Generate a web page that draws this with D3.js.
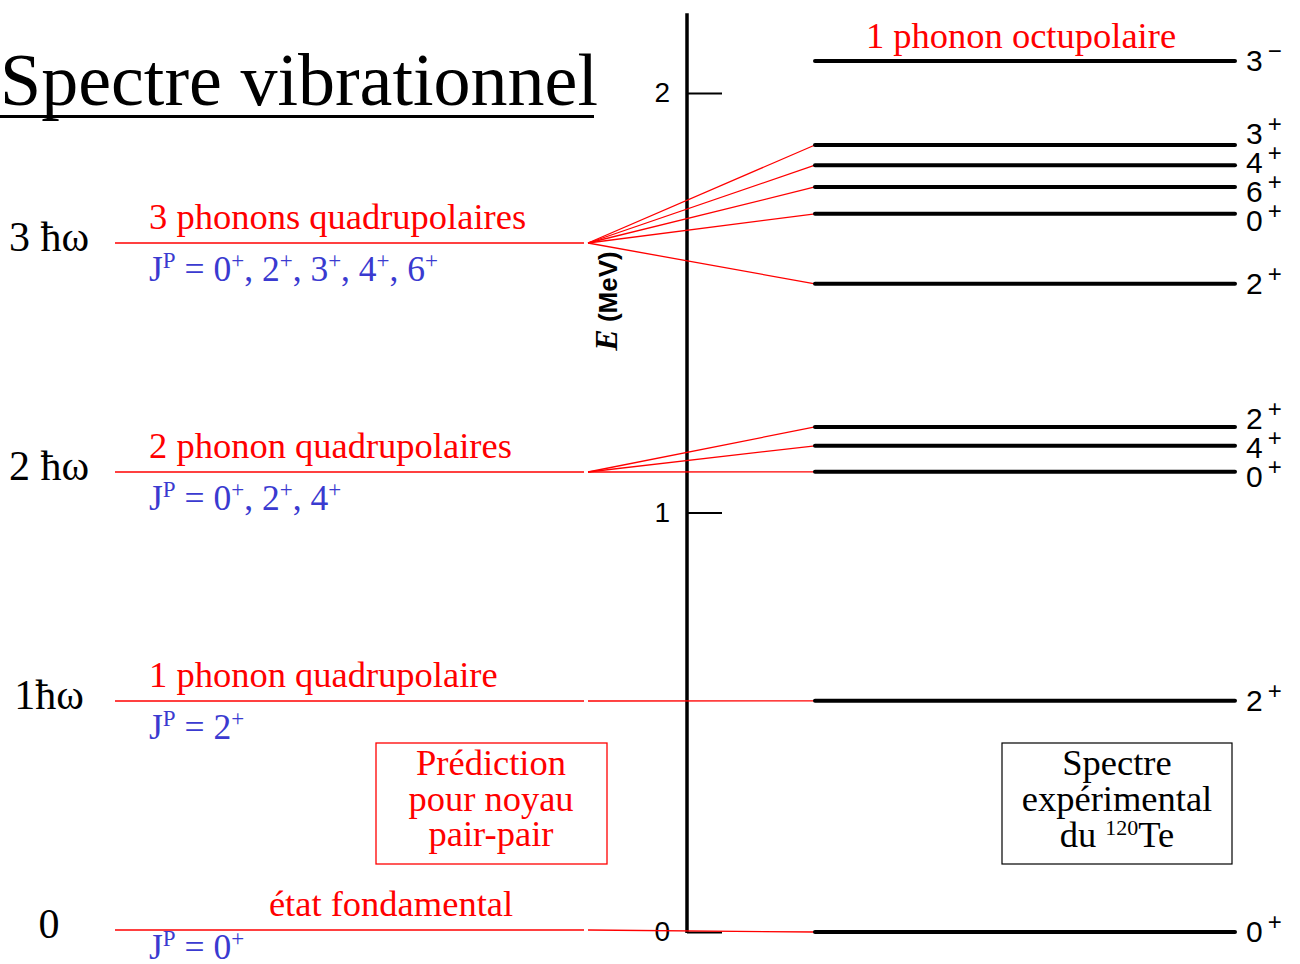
<!DOCTYPE html>
<html>
<head>
<meta charset="utf-8">
<script src="https://cdn.jsdelivr.net/npm/d3@7"></script>
<style>
  body { margin: 0; background: #fff; }
  svg { display: block; }
</style>
</head>
<body>
<div class="wrapper"></div>
<script>

// ---- data ----
// theoretical vibrational levels (in units of hbar*omega)
var nPhonons = [0, 1, 2, 3];
var nLabels = ["0", "1\u0127\u03c9", "2 \u0127\u03c9", "3 \u0127\u03c9"];
var nTitles = ["\u00e9tat fondamental", "1 phonon quadrupolaire", "2 phonon quadrupolaires", "3 phonons quadrupolaires"];
var nSpins = [["0"], ["2"], ["0", "2", "4"], ["0", "2", "3", "4", "6"]];

// experimental levels of 120Te (MeV)
var expEnergy = [0, 0.551, 1.097, 1.159, 1.204, 1.545, 1.712, 1.776, 1.828, 1.876, 2.076];
var expSpin   = ["0", "2", "0", "4", "2", "2", "0", "6", "4", "3", "3"];
var expParity = ["+", "+", "+", "+", "+", "+", "+", "+", "+", "+", "\u2212"];
// which experimental levels each phonon multiplet feeds
var expGroup  = [0, 1, 2, 2, 2, 3, 3, 3, 3, 3, -1];

var axisTicks = [0, 1, 2];

// ---- layout ----
var W = 1300, H = 964,
	RED = "#ff0000",
	BLUE = "#3a3ad0",
	SERIF = "'Liberation Serif', 'Times New Roman', serif",
	SANS = "'Liberation Sans', Arial, sans-serif",
	FS = 36.5;

var THEO_X0 = 115, THEO_X1 = 584, FAN_X0 = 588,
	EXP_X0 = 815, EXP_X1 = 1235,
	AXIS_X = 687;

var svg = d3.select(".wrapper")
	.append("svg")
		.attr("width", W)
		.attr("height", H);

var yE = d3.scaleLinear().domain([0, 2]).range([932, 93]);
var yN = d3.scaleLinear().domain([0, 3]).range([930, 243]);

// helper: text made of normal + superscript pieces
function richText(sel, parts, size, supSize) {
	var lift = Math.round(size * 0.38), raised = false;
	parts.forEach(function(p) {
		var ts = sel.append("tspan").text(p.t);
		if (p.sup) {
			ts.attr("font-size", supSize);
			if (!raised) ts.attr("dy", -lift);
			raised = true;
		} else {
			ts.attr("font-size", size);
			if (raised) ts.attr("dy", lift);
			raised = false;
		}
	});
}

// ---- title ----
svg.append("text")
	.attr("x", 0).attr("y", 105)
	.attr("font-family", SERIF)
	.attr("font-size", 74)
	.text("Spectre vibrationnel");
svg.append("rect")
	.attr("x", 0).attr("y", 115).attr("width", 594).attr("height", 3)
	.attr("fill", "#000");

// ---- energy axis ----
var axis = svg.append("g")
	.attr("transform", "translate(" + AXIS_X + ",0)")
	.call(d3.axisLeft(yE).tickValues(axisTicks).tickSize(-35).tickPadding(17).tickFormat(d3.format("d")));
axis.select(".domain").remove();
axis.selectAll(".tick line").attr("stroke", "#000").attr("stroke-width", 2);
axis.selectAll(".tick text")
	.attr("font-family", SANS)
	.attr("font-size", 28)
	.attr("fill", "#000");
axis.append("line")
	.attr("x1", 0).attr("x2", 0)
	.attr("y1", yE(2.19)).attr("y2", yE(0) + 1)
	.attr("stroke", "#000").attr("stroke-width", 3.5);

var eLab = svg.append("text")
	.attr("transform", "translate(617," + 301 + ") rotate(-90)")
	.attr("text-anchor", "middle")
	.attr("font-family", SANS)
	.attr("font-weight", "bold")
	.attr("font-size", 26);
eLab.append("tspan").attr("font-family", SERIF).attr("font-style", "italic").attr("font-size", 32).text("E");
eLab.append("tspan").text("  (MeV)");

// ---- theoretical levels ----
var theo = svg.selectAll("g.theo")
	.data(nPhonons)
	.enter()
	.append("g")
		.attr("class", "theo");

theo.append("line")
	.attr("x1", THEO_X0).attr("x2", THEO_X1)
	.attr("y1", function(d) { return yN(d); })
	.attr("y2", function(d) { return yN(d); })
	.attr("stroke", RED).attr("stroke-width", 1.3);

theo.append("text")
	.attr("x", 49)
	.attr("y", function(d) { return yN(d) + 8; })
	.attr("text-anchor", "middle")
	.attr("font-family", SERIF)
	.attr("font-size", 42)
	.text(function(d, i) { return nLabels[i]; });

theo.append("text")
	.attr("x", function(d) { return d === 0 ? 391 : 149; })
	.attr("y", function(d) { return yN(d) - 14; })
	.attr("text-anchor", function(d) { return d === 0 ? "middle" : "start"; })
	.attr("font-family", SERIF)
	.attr("font-size", FS)
	.attr("fill", RED)
	.text(function(d, i) { return nTitles[i]; });

theo.append("text")
	.attr("x", 149)
	.attr("y", function(d) { return yN(d) + (d === 0 ? 29 : 38); })
	.attr("font-family", SERIF)
	.attr("fill", BLUE)
	.each(function(d, i) {
		var parts = [{t: "J"}, {t: "P", sup: true}, {t: " = "}];
		nSpins[i].forEach(function(s, k) {
			if (k > 0) parts.push({t: ", "});
			parts.push({t: s});
			parts.push({t: "+", sup: true});
		});
		richText(d3.select(this), parts, 35.5, 23);
	});

// ---- links theory -> experiment ----
var links = expEnergy.map(function(e, i) { return {e: e, g: expGroup[i]}; })
	.filter(function(d) { return d.g >= 0; });

svg.selectAll("line.link")
	.data(links)
	.enter()
	.append("line")
		.attr("class", "link")
		.attr("x1", FAN_X0).attr("x2", EXP_X0)
		.attr("y1", function(d) { return yN(d.g); })
		.attr("y2", function(d) { return yE(d.e); })
		.attr("stroke", RED).attr("stroke-width", 1.3);

// ---- experimental levels ----
svg.selectAll("line.exp")
	.data(expEnergy)
	.enter()
	.append("line")
		.attr("class", "exp")
		.attr("x1", EXP_X0).attr("x2", EXP_X1)
		.attr("y1", function(d) { return yE(d); })
		.attr("y2", function(d) { return yE(d); })
		.attr("stroke", "#000").attr("stroke-width", 4)
		.attr("stroke-linecap", "round");

// spread crowded spin labels
var labY = expEnergy.map(function(e) { return yE(e); });
for (var it = 0; it < 200; it++) {
	for (var a = 0; a < labY.length - 1; a++) {
		var gap = labY[a] - labY[a + 1];
		if (gap < 29) {
			var push = (29 - gap) / 2;
			labY[a] += push;
			labY[a + 1] -= push;
		}
	}
}

svg.selectAll("text.spin")
	.data(expEnergy)
	.enter()
	.append("text")
		.attr("class", "spin")
		.attr("x", 1246)
		.attr("y", function(d, i) { return labY[i] + 10; })
		.attr("font-family", SANS)
		.each(function(d, i) {
			var t = d3.select(this);
			t.append("tspan").attr("font-size", 30).text(expSpin[i]);
			t.append("tspan").attr("font-size", 24).attr("dx", 5).attr("dy", -12).text(expParity[i]);
		});

svg.append("text")
	.attr("x", 1021).attr("y", 48)
	.attr("text-anchor", "middle")
	.attr("font-family", SERIF)
	.attr("font-size", FS)
	.attr("fill", RED)
	.text("1 phonon octupolaire");

// ---- boxes ----
var predBox = svg.append("g");
predBox.append("rect")
	.attr("x", 376).attr("y", 743).attr("width", 231).attr("height", 121)
	.attr("fill", "none").attr("stroke", RED).attr("stroke-width", 1.3);
["Pr\u00e9diction", "pour noyau", "pair-pair"].forEach(function(s, i) {
	predBox.append("text")
		.attr("x", 491).attr("y", 775 + i * 35.5)
		.attr("text-anchor", "middle")
		.attr("font-family", SERIF).attr("font-size", FS)
		.attr("fill", RED)
		.text(s);
});

var expBox = svg.append("g");
expBox.append("rect")
	.attr("x", 1002).attr("y", 743).attr("width", 230).attr("height", 121)
	.attr("fill", "none").attr("stroke", "#000").attr("stroke-width", 1.2);
["Spectre", "exp\u00e9rimental"].forEach(function(s, i) {
	expBox.append("text")
		.attr("x", 1117).attr("y", 775 + i * 36)
		.attr("text-anchor", "middle")
		.attr("font-family", SERIF).attr("font-size", FS)
		.text(s);
});
var du = expBox.append("text")
	.attr("x", 1117).attr("y", 847)
	.attr("text-anchor", "middle")
	.attr("font-family", SERIF);
du.append("tspan").attr("font-size", FS).text("du ");
du.append("tspan").attr("font-size", 22).attr("dy", -12).text("120");
du.append("tspan").attr("font-size", FS).attr("dy", 12).text("Te");

</script>
</body>
</html>
